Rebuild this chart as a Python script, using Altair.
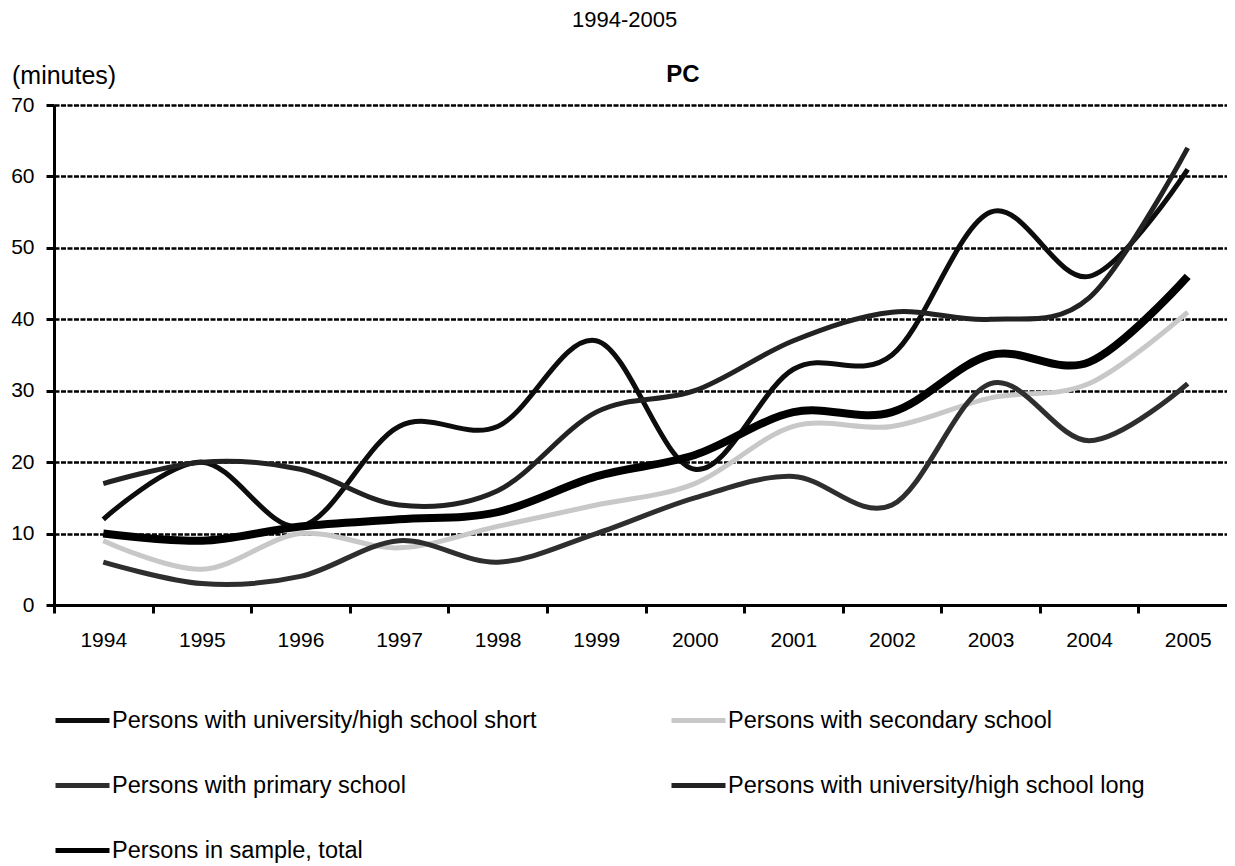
import altair as alt
import pandas as pd

years = ["1994", "1995", "1996", "1997", "1998", "1999", "2000", "2001", "2002", "2003", "2004", "2005"]
short_name = "Persons with university/high school short"
secondary_name = "Persons with secondary school"
primary_name = "Persons with primary school"
long_name = "Persons with university/high school long"
total_name = "Persons in sample, total"

uni_short = [12, 20, 11, 25, 25, 37, 19, 33, 35, 55, 46, 61]
secondary = [9, 5, 10, 8, 11, 14, 17, 25, 25, 29, 31, 41]
primary = [6, 3, 4, 9, 6, 10, 15, 18, 14, 31, 23, 31]
uni_long = [17, 20, 19, 14, 16, 27, 30, 37, 41, 40, 43, 64]
total = [10, 9, 11, 12, 13, 18, 21, 27, 27, 35, 34, 46]

series = [
    (short_name, uni_short),
    (secondary_name, secondary),
    (primary_name, primary),
    (long_name, uni_long),
    (total_name, total),
]

# legend fills column by column (3 rows): short, primary, total | secondary, long
legend_order = [short_name, primary_name, total_name, secondary_name, long_name]
legend_colors = ["#0d0d0d", "#2e2e2e", "#000000", "#c8c8c8", "#222222"]

rows = []
for name, vals in series:
    for y, v in zip(years, vals):
        rows.append({"series": name, "year": y, "minutes": v})
df = pd.DataFrame(rows)

FONT = "Liberation Sans"

x_enc = alt.X(
    "year:O",
    sort=years,
    scale=alt.Scale(range=[0, 1183], paddingInner=0, paddingOuter=0),
    axis=alt.Axis(
        title=None, labelAngle=0, labelFontSize=21, labelColor="#000", labelFont=FONT,
        domainColor="#000", domainWidth=3, tickColor="#000", tickWidth=3, tickSize=8,
        tickBand="extent", labelPadding=16, grid=False,
    ),
)
y_enc = alt.Y(
    "minutes:Q",
    scale=alt.Scale(domain=[0, 70], nice=False),
    axis=alt.Axis(
        title=None, values=[0, 10, 20, 30, 40, 50, 60, 70], labelFontSize=21,
        labelColor="#000", labelFont=FONT, domainColor="#000", domainWidth=3,
        tickColor="#000", tickWidth=3, tickSize=8, labelPadding=12,
        grid=True, gridColor="#000", gridWidth=2.5, gridDash=[5, 1.5],
    ),
)
color_enc = alt.Color(
    "series:N",
    sort=legend_order,
    scale=alt.Scale(domain=legend_order, range=legend_colors),
    legend=alt.Legend(
        title=None, orient="none", legendX=-1, legendY=586, columns=2,
        symbolType="stroke", symbolSize=2916, symbolStrokeWidth=5,
        labelFontSize=23.5, labelFont=FONT, labelColor="#000", labelLimit=0,
        labelOffset=0, rowPadding=24, columnPadding=124,
    ),
)

thin = alt.Chart(df).transform_filter(
    alt.datum.series != total_name
).mark_line(interpolate="cardinal", strokeWidth=5).encode(
    x=x_enc, y=y_enc, color=color_enc, order=alt.Order("year:O")
)

thick = alt.Chart(df).transform_filter(
    alt.datum.series == total_name
).mark_line(interpolate="cardinal", strokeWidth=8).encode(
    x=x_enc, y=y_enc, color=color_enc, order=alt.Order("year:O")
)

pc = alt.Chart(pd.DataFrame({"t": ["PC"]})).mark_text(
    fontSize=24, fontWeight="bold", font=FONT, color="#000", align="center", baseline="middle"
).encode(text="t:N", x=alt.value(629), y=alt.value(-30))

unit = alt.Chart(pd.DataFrame({"t": ["(minutes)"]})).mark_text(
    fontSize=25, font=FONT, color="#000", align="left", baseline="middle"
).encode(text="t:N", x=alt.value(-42), y=alt.value(-29))

chart = alt.layer(thin, thick, pc, unit).properties(
    width=1173,
    height=500,
    title=alt.Title("1994-2005", fontSize=22, font=FONT, fontWeight="normal", color="#000",
                    anchor="middle", frame="bounds", offset=31),
    autosize=alt.AutoSizeParams(type="none"),
    padding={"left": 46, "top": 97, "right": 0, "bottom": 261},
).configure_view(stroke=None).configure(background="white")

chart.save("out.html", embed_options={"renderer": "svg", "actions": False})
